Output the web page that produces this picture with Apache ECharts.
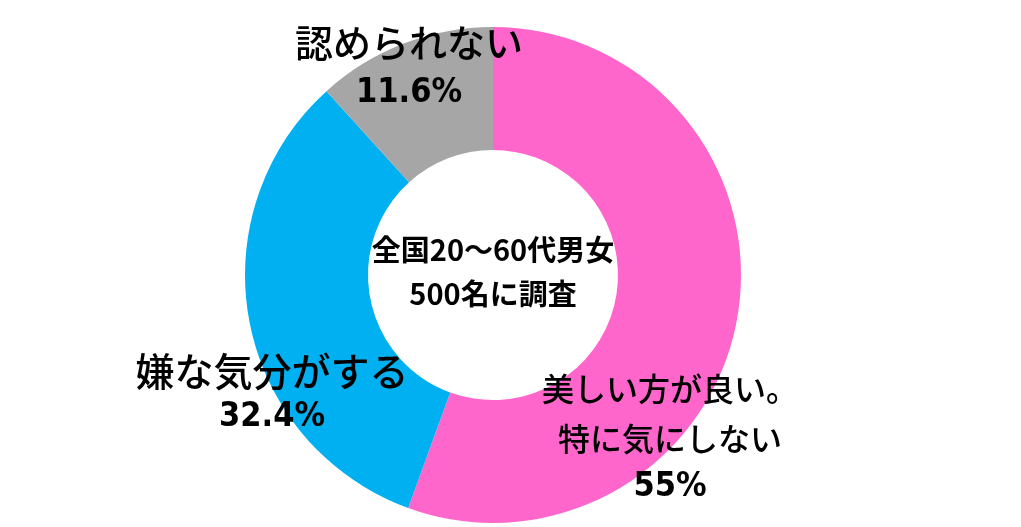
<!DOCTYPE html>
<html>
<head>
<meta charset="utf-8">
<script src="https://cdn.jsdelivr.net/npm/echarts@6/dist/echarts.min.js"></script>
<style>
    html, body { margin: 0; padding: 0; background: #fff; }
    #container { width: 1021px; height: 527px; }
</style>
</head>
<body>
<div id="container"></div>
<script>
    // データ
    var categories = ['美しい方が良い。\n特に気にしない', '嫌な気分がする', '認められない'];
    var values = [55, 32.4, 11.6];
    var colors = ['#FF66CC', '#00B0F0', '#A6A6A6'];
    var centerText = ['全国20～60代男女', '500名に調査'];

    // ラベル位置 (x, 上端y, 文字サイズ)
    var labelPos = [
        { x: 670, y: 364, size: 32, lh: 50 },
        { x: 272, y: 348, size: 39, lh: 46 },
        { x: 409, y: 16, size: 38, lh: 54 }
    ];

    var dom = document.getElementById('container');
    var myChart = echarts.init(dom);
    var option = {
        animation: false,
        series: [
            {
                type: 'pie',
                center: [493, 275],
                radius: [125, 248],
                startAngle: 90,
                clockwise: true,
                avoidLabelOverlap: false,
                emphasis: { disabled: true },
                color: colors,
                data: categories.map(function (name, i) {
                    return {
                        name: name,
                        value: values[i],
                        label: {
                            rich: {
                                n: {
                                    fontFamily: '"Noto Sans CJK JP"',
                                    fontWeight: 500,
                                    fontSize: labelPos[i].size,
                                    lineHeight: labelPos[i].lh,
                                    color: '#000'
                                },
                                p: {
                                    fontFamily: '"DejaVu Sans Condensed", "DejaVu Sans"',
                                    fontWeight: 'bold',
                                    fontSize: 34,
                                    lineHeight: 46,
                                    color: '#000'
                                }
                            }
                        }
                    };
                }),
                label: {
                    show: true,
                    position: 'outside',
                    align: 'center',
                    formatter: function (p) {
                        var lines = p.name.split('\n').map(function (s) { return '{n|' + s + '}'; });
                        return lines.join('\n') + '\n{p|' + p.value + '%}';
                    }
                },
                labelLine: { show: false },
                labelLayout: function (params) {
                    var lp = labelPos[params.dataIndex];
                    return { x: lp.x, y: lp.y, align: 'center', verticalAlign: 'top' };
                }
            }
        ],
        graphic: [
            {
                type: 'text',
                x: 493,
                y: 228,
                style: {
                    text: centerText.join('\n'),
                    fontFamily: '"Noto Sans CJK JP"',
                    fontWeight: 'bold',
                    fontSize: 29,
                    lineHeight: 44,
                    align: 'center',
                    verticalAlign: 'top',
                    fill: '#000'
                }
            }
        ]
    };
    myChart.setOption(option);
</script>
</body>
</html>
